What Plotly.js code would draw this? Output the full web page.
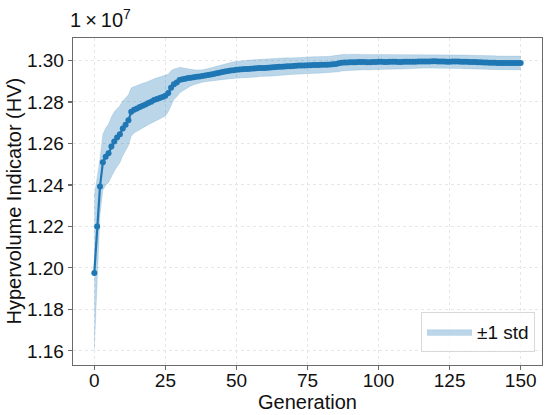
<!DOCTYPE html>
<html>
<head>
<meta charset="utf-8">
<script src="https://cdn.plot.ly/plotly-3.0.1.min.js"></script>
<style>html,body{margin:0;padding:0;background:#fff;}#chart{width:550px;height:415px;}</style>
</head>
<body>
<div id="chart"></div>
<script>
// Mean hypervolume per generation (units of 1e7), generations 0..150
const hvMean = [
1.1976,1.2200,1.2392,1.2509,1.2536,1.2552,1.2585,1.2609,1.2628,1.2644,
1.2672,1.2690,1.2712,1.2752,1.2762,1.2768,1.2775,1.2782,1.2788,1.2795,
1.2801,1.2809,1.2814,1.2819,1.2824,1.2830,1.2843,1.2868,1.2885,1.2893,
1.2905,1.2909,1.2912,1.2915,1.2917,1.2919,1.2921,1.2922,1.2925,1.2927,
1.2930,1.2932,1.2935,1.2938,1.2941,1.2944,1.2946,1.2949,1.2951,1.2953,
1.2955,1.2956,1.2957,1.2958,1.2959,1.2960,1.2961,1.2962,1.2963,1.2963,
1.2964,1.2965,1.2966,1.2967,1.2968,1.2969,1.2970,1.2971,1.2972,1.2972,
1.2973,1.2974,1.2975,1.2975,1.2976,1.2977,1.2977,1.2978,1.2978,1.2978,
1.2979,1.2979,1.2979,1.2980,1.2981,1.2983,1.2986,1.2989,1.2990,1.2990,
1.2991,1.2991,1.2991,1.2992,1.2992,1.2992,1.2991,1.2991,1.2992,1.2992,
1.2993,1.2993,1.2992,1.2992,1.2993,1.2993,1.2993,1.2992,1.2992,1.2993,
1.2993,1.2994,1.2994,1.2994,1.2995,1.2995,1.2995,1.2995,1.2995,1.2996,
1.2996,1.2995,1.2995,1.2995,1.2994,1.2994,1.2995,1.2995,1.2995,1.2994,
1.2993,1.2993,1.2992,1.2992,1.2992,1.2991,1.2991,1.2990,1.2990,1.2989,
1.2989,1.2989,1.2988,1.2988,1.2988,1.2988,1.2988,1.2988,1.2988,1.2988,
1.2988
];
// Standard deviation per generation (units of 1e7)
const hvStd = [
0.0370,0.0230,0.0135,0.0135,0.0138,0.0140,0.0142,0.0143,0.0140,0.0137,
0.0132,0.0127,0.0122,0.0116,0.0112,0.0110,0.0110,0.0108,0.0106,0.0105,
0.0104,0.0103,0.0102,0.0101,0.0100,0.0098,0.0090,0.0082,0.0074,0.0068,
0.0062,0.0056,0.0050,0.0045,0.0040,0.0036,0.0033,0.0031,0.0030,0.0030,
0.0031,0.0032,0.0033,0.0034,0.0035,0.0036,0.0037,0.0038,0.0039,0.0040,
0.0040,0.0041,0.0041,0.0041,0.0042,0.0042,0.0042,0.0042,0.0041,0.0041,
0.0041,0.0042,0.0042,0.0042,0.0042,0.0041,0.0041,0.0041,0.0041,0.0040,
0.0040,0.0041,0.0041,0.0040,0.0040,0.0040,0.0040,0.0040,0.0040,0.0040,
0.0040,0.0040,0.0040,0.0040,0.0041,0.0041,0.0041,0.0040,0.0040,0.0039,
0.0039,0.0038,0.0038,0.0038,0.0037,0.0037,0.0037,0.0036,0.0036,0.0036,
0.0036,0.0035,0.0035,0.0035,0.0035,0.0034,0.0034,0.0034,0.0034,0.0034,
0.0033,0.0033,0.0033,0.0033,0.0033,0.0033,0.0032,0.0032,0.0032,0.0032,
0.0032,0.0032,0.0032,0.0032,0.0032,0.0032,0.0032,0.0032,0.0033,0.0033,
0.0033,0.0033,0.0033,0.0033,0.0033,0.0033,0.0033,0.0033,0.0033,0.0033,
0.0033,0.0033,0.0033,0.0033,0.0033,0.0033,0.0033,0.0033,0.0033,0.0033,
0.0033
];
const generations = hvMean.map((_, i) => i);
const xTicks = [0, 25, 50, 75, 100, 125, 150];
const yTicks = [1.16, 1.18, 1.20, 1.22, 1.24, 1.26, 1.28, 1.30];
const bandLabel = '±1 std';
const xTitle = 'Generation';
const yTitle = 'Hypervolume Indicator (HV)';

const lower = hvMean.map((m, i) => m - hvStd[i]);
const upper = hvMean.map((m, i) => m + hvStd[i]);

const FONT = 'Liberation Sans, Arial, sans-serif';
const blue = '#1f77b4';

const traces = [
  {x: generations, y: lower, type: 'scatter', mode: 'lines',
   line: {width: 0.5, color: 'rgba(31,119,180,0.3)'}, showlegend: false, hoverinfo: 'skip'},
  {x: generations, y: upper, type: 'scatter', mode: 'lines', fill: 'tonexty',
   fillcolor: 'rgba(31,119,180,0.3)', line: {width: 0.5, color: 'rgba(31,119,180,0.3)'},
   name: bandLabel, showlegend: true},
  {x: generations, y: hvMean, type: 'scatter', mode: 'lines+markers',
   line: {color: blue, width: 2.2}, marker: {color: blue, size: 6},
   showlegend: false}
];

const axisCommon = {
  showline: true, mirror: true, linecolor: '#6a6a6a', linewidth: 1.3,
  ticks: 'outside', ticklen: 4, tickwidth: 1.2, tickcolor: '#6a6a6a',
  showgrid: true, gridcolor: '#e6e6e6', griddash: '3px,3px', gridwidth: 1,
  zeroline: false,
  tickfont: {family: FONT, size: 19, color: '#111'}
};

const layout = {
  width: 550, height: 415,
  margin: {l: 73, r: 8, t: 38, b: 50},
  paper_bgcolor: '#fff', plot_bgcolor: '#fff',
  font: {family: FONT, color: '#111'},
  xaxis: Object.assign({}, axisCommon, {
    range: [-7.5, 157.5], tickvals: xTicks, ticktext: xTicks.map(String),
    ticklabelstandoff: -6
  }),
  yaxis: Object.assign({}, axisCommon, {
    range: [1.1532, 1.3108], tickvals: yTicks, ticktext: yTicks.map(v => v.toFixed(2))
  }),
  legend: {
    x: 0.985, y: 0.04, xanchor: 'right', yanchor: 'bottom',
    bgcolor: 'rgba(255,255,255,0.8)', bordercolor: '#d8d8d8', borderwidth: 1,
    itemwidth: 45,
    font: {family: FONT, size: 19, color: '#111'}
  },
  annotations: [
    {text: '1\u2009×\u200910<sup>7</sup>', xref: 'paper', yref: 'paper', x: -0.01, y: 1,
     xanchor: 'left', yanchor: 'bottom', yshift: 5, showarrow: false,
     font: {family: FONT, size: 20, color: '#111'}},
    {text: xTitle, xref: 'paper', yref: 'paper', x: 0.5, y: -0.112,
     xanchor: 'center', yanchor: 'middle', showarrow: false,
     font: {family: FONT, size: 20, color: '#111'}},
    {text: yTitle, xref: 'paper', yref: 'paper', x: -0.1087, y: 0.5, xshift: -9, textangle: -90,
     xanchor: 'center', yanchor: 'middle', showarrow: false,
     font: {family: FONT, size: 20, color: '#111'}}
  ]
};

Plotly.newPlot('chart', traces, layout, {displayModeBar: false, staticPlot: true});
</script>
</body>
</html>
